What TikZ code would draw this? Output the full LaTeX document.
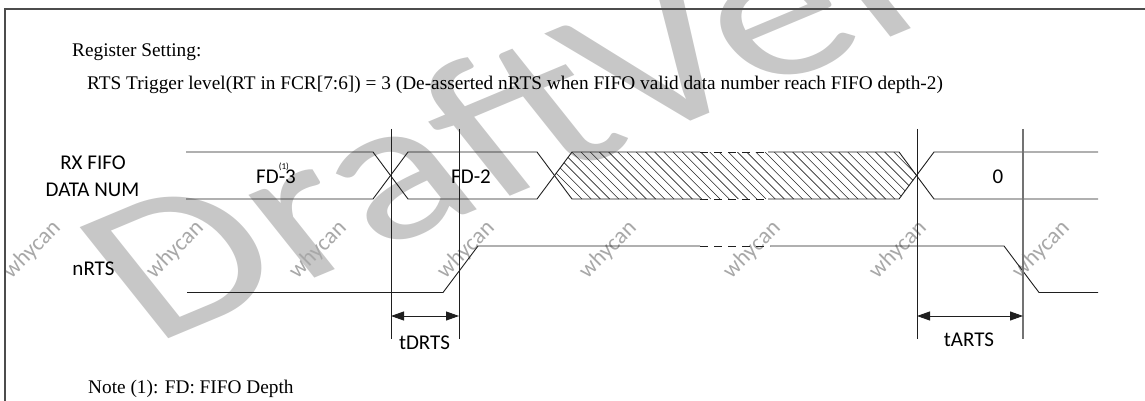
\documentclass[tikz,border=0pt]{standalone}
\usepackage{fontspec}
\setmainfont{Liberation Serif}
\newfontfamily\calfont{Carlito}
\usetikzlibrary{arrows.meta}
\begin{document}
\begin{tikzpicture}[x=1pt,y=-1pt,
  sig/.style={line width=0.9pt, draw=black!88, line join=miter},
  dsh/.style={sig, dash pattern=on 8pt off 6pt},
  mk/.style={line width=0.9pt, draw=black!88},
  mkg/.style={line width=1.1pt, draw=black!55},
  dim/.style={line width=0.9pt, draw=black!88, {Triangle[length=13pt,width=9pt]}-{Triangle[length=13pt,width=9pt]}},
  hatch/.style={line width=0.6pt, draw=black!85},
  lab/.style={font=\calfont\fontsize{21}{24}\selectfont, inner sep=0pt},
  serif/.style={font=\fontsize{19.3}{22}\selectfont, inner sep=0pt, anchor=base west},
  wmbig/.style={font=\calfont\fontsize{200}{200}\selectfont, text=black!22, inner sep=0pt, anchor=base west, xscale=1.38, rotate=30},
  wmsmall/.style={font=\calfont\fontsize{23}{23}\selectfont, text=black!34, inner sep=0pt, rotate=45},
  frame/.style={line width=1.2pt, draw=black!70}
]
\useasboundingbox (0,0) rectangle (1145,401);
\clip (0,0) rectangle (1145,401);

% watermarks
\node[wmbig] (wmdraft) at (152,346) {Draft \hspace{-0.25em}Ver};
\foreach \x [count=\i] in {32,175,318,466,608,752,898,1041}
  \node[wmsmall] (wc\i) at (\x,250) {whycan};

% frame
\draw[frame] (5,401) -- (5,9) -- (1145,9);

% texts
\node[serif] (reg) at (72,56.5) {Register Setting:};
\node[serif] (rts) at (87,90) {RTS Trigger level(RT in FCR[7:6]) = 3 (De-asserted nRTS when FIFO valid data number reach FIFO depth-2)};
\node[serif] (note) at (88,393) {Note (1): FD: FIFO Depth};

% signal labels
\node[lab, anchor=base] (rx1) at (93,169) {RX FIFO};
\node[lab, anchor=base] (rx2) at (92.5,196.7) {DATA NUM};
\node[lab, anchor=base] (nrts) at (93.5,275) {nRTS};

% hatch in unknown region
\begin{scope}
  \clip (554,175.5) -- (572,152) -- (899,152) -- (917,175.5) -- (899,199) -- (572,199) -- cycle;
  \foreach \k in {0,...,42}
    \draw[hatch] ({535+9.2*\k},152) -- ++(47,47);
\end{scope}

% RX FIFO bus
\draw[sig] (186,152) -- (373,152) -- (408,199) -- (537,199) -- (572,152) -- (700,152);
\draw[sig] (186,199) -- (373,199) -- (408,152) -- (537,152) -- (572,199) -- (700,199);
\draw[dsh] (700,152) -- (768,152);
\draw[dsh] (700,199) -- (768,199);
\draw[sig] (768,152) -- (899,152) -- (934,199) -- (1098,199);
\draw[sig] (768,199) -- (899,199) -- (934,152) -- (1098,152);

\node[lab, anchor=base west] (fd3) at (256,183.3) {FD\rlap{\raisebox{14pt}{\fontsize{9}{9}\selectfont(1)}}-3};
\node[lab, anchor=base west] (fd2) at (451,183.3) {FD-2};
\node[lab, anchor=base] (zero) at (998,183.3) {0};

% nRTS
\draw[sig] (187,292.5) -- (443,292.5) -- (478,246) -- (700,246);
\draw[dsh] (700,246) -- (770,246);
\draw[sig] (770,246) -- (1004,246) -- (1039,292.5) -- (1098,292.5);

% timing markers
\coordinate (m1t) at (391,129); \coordinate (m1b) at (391,339);
\coordinate (m2t) at (459,129); \coordinate (m2b) at (459,339);
\coordinate (m3t) at (917,129); \coordinate (m3b) at (917,339);
\coordinate (m4t) at (1023,129); \coordinate (m4b) at (1023,339);
\draw[mk] (m1t) -- (m1b);
\draw[mk] (m2t) -- (m2b);
\draw[mk] (m3t) -- (m3b);
\draw[mkg] (m4t) -- (m4b);

\coordinate (a1l) at (391,316); \coordinate (a1r) at (459,316);
\coordinate (a2l) at (917,316); \coordinate (a2r) at (1023,316);
\draw[dim] (a1l) -- (a1r);
\draw[dim] (a2l) -- (a2r);

\node[lab, anchor=base] (tdrts) at (424.5,349) {tDRTS};
\node[lab, anchor=base] (tarts) at (969,346) {tARTS};
\end{tikzpicture}
\end{document}
